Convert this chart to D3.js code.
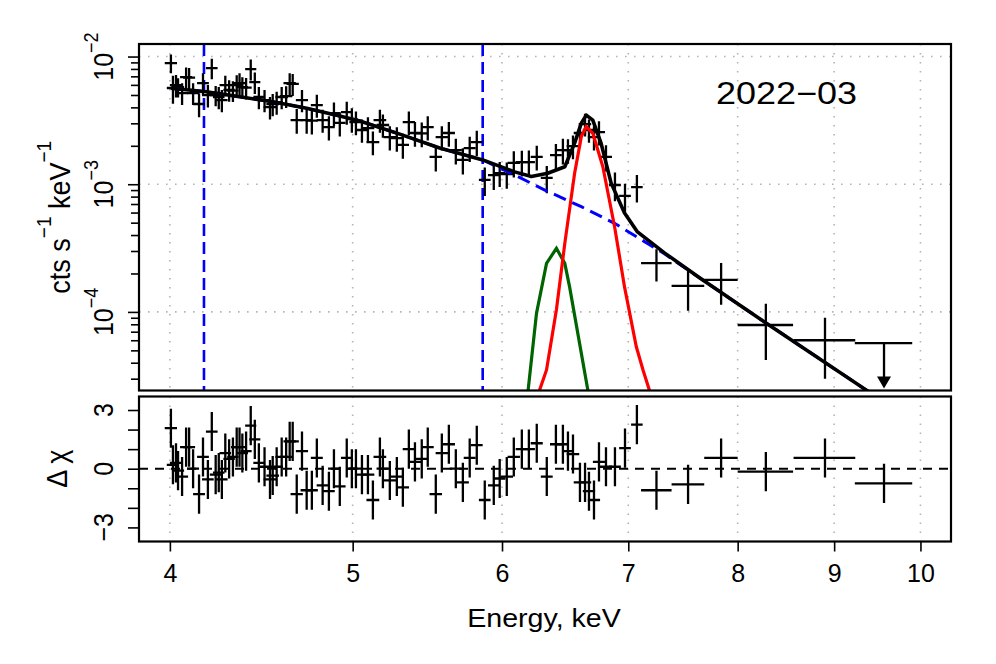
<!DOCTYPE html>
<html lang="en">
  <head>
    <meta charset="UTF-8">
    <title>2022-03 spectrum</title>
    <style>
      html, body { margin: 0; padding: 0; background: #fff; }
      svg { display: block; font-family: "Liberation Sans", Arial, sans-serif; }
    </style>
  </head>
  <body>
    <svg id="chart" width="996" height="664"></svg>
    <script src="https://cdn.jsdelivr.net/npm/d3@7"></script>
    <script>
      // --- data ---
      const energy = [
        4.005, 4.015, 4.03, 4.04, 4.06, 4.08, 4.095, 4.115, 4.145, 4.165,
        4.19, 4.21, 4.23, 4.246, 4.262, 4.28, 4.30, 4.32, 4.34, 4.355,
        4.37, 4.39, 4.415, 4.437, 4.459, 4.49, 4.52, 4.535, 4.557, 4.585,
        4.61, 4.63, 4.647, 4.67, 4.70, 4.727, 4.757, 4.786, 4.82, 4.857,
        4.887, 4.922, 4.964, 4.995, 5.02, 5.057, 5.094, 5.125, 5.169, 5.188,
        5.232, 5.277, 5.316, 5.355, 5.395, 5.44, 5.48, 5.534, 5.575, 5.623,
        5.671, 5.72, 5.768, 5.818, 5.875, 5.94, 5.983, 6.035, 6.087, 6.147,
        6.20, 6.26, 6.337, 6.408, 6.463, 6.503, 6.543, 6.599, 6.64, 6.672,
        6.713, 6.754, 6.812, 6.887, 6.972, 7.074,
        7.245, 7.53, 7.84, 8.28, 8.90, 9.565
      ];
      const halfWidth = [
        0.03, 0.03, 0.03, 0.03, 0.03, 0.03, 0.03, 0.03, 0.03, 0.03,
        0.03, 0.03, 0.03, 0.03, 0.03, 0.03, 0.03, 0.03, 0.03, 0.03,
        0.03, 0.03, 0.03, 0.03, 0.03, 0.03, 0.035, 0.035, 0.035, 0.035,
        0.035, 0.035, 0.035, 0.035, 0.035, 0.035, 0.035, 0.035, 0.035, 0.035,
        0.035, 0.035, 0.035, 0.035, 0.04, 0.04, 0.04, 0.04, 0.04, 0.04,
        0.04, 0.04, 0.04, 0.04, 0.04, 0.04, 0.04, 0.042, 0.042, 0.042,
        0.042, 0.042, 0.042, 0.042, 0.042, 0.042, 0.042, 0.046, 0.046, 0.046,
        0.046, 0.046, 0.046, 0.046, 0.046, 0.046, 0.05, 0.05, 0.05, 0.05,
        0.05, 0.05, 0.05, 0.05, 0.05, 0.05,
        0.135, 0.15, 0.16, 0.28, 0.335, 0.335
      ];
      // cts s^-1 keV^-1
      const flux = [
        8.89e-3, 5.67e-3, 5.98e-3, 5.77e-3, 5.18e-3, 6.91e-3, 6.85e-3, 5.18e-3, 4.25e-3, 6.20e-3,
        4.99e-3, 8.13e-3, 4.99e-3, 4.82e-3, 4.56e-3, 5.98e-3, 5.47e-3, 5.40e-3, 5.98e-3, 6.20e-3,
        5.77e-3, 5.70e-3, 7.98e-3, 6.30e-3, 4.82e-3, 4.56e-3, 4.02e-3, 4.25e-3, 4.40e-3, 4.82e-3,
        4.90e-3, 6.20e-3, 6.10e-3, 3.18e-3, 4.56e-3, 3.18e-3, 3.15e-3, 4.17e-3, 3.18e-3, 2.80e-3,
        3.61e-3, 3.02e-3, 3.67e-3, 3.23e-3, 3.07e-3, 2.66e-3, 2.75e-3, 2.14e-3, 3.18e-3, 2.91e-3,
        2.34e-3, 2.30e-3, 2.03e-3, 3.07e-3, 2.52e-3, 2.50e-3, 2.80e-3, 1.64e-3, 2.34e-3, 2.52e-3,
        1.85e-3, 1.55e-3, 1.92e-3, 2.14e-3, 1.08e-3, 1.18e-3, 1.22e-3, 1.20e-3, 1.47e-3, 1.49e-3,
        1.49e-3, 1.64e-3, 1.12e-3, 1.69e-3, 1.85e-3, 1.85e-3, 1.99e-3, 2.52e-3, 2.96e-3, 2.66e-3,
        2.34e-3, 2.56e-3, 1.64e-3, 9.86e-4, 8.1e-4, 9.5e-4,
        2.41e-4, 1.60e-4, 1.78e-4, 7.9e-5, 6.0e-5, 5.7e-5
      ];
      // null = upper limit
      const fluxErr = [
        1.5e-3, 1.4e-3, 1.2e-3, 1.0e-3, 1.0e-3, 1.3e-3, 1.3e-3, 1.0e-3, 0.9e-3, 1.2e-3,
        1.0e-3, 1.5e-3, 0.9e-3, 0.95e-3, 0.9e-3, 1.1e-3, 1.05e-3, 1.0e-3, 1.15e-3, 1.2e-3,
        1.1e-3, 1.1e-3, 1.5e-3, 1.2e-3, 0.95e-3, 0.9e-3, 0.8e-3, 0.85e-3, 0.9e-3, 0.95e-3,
        0.95e-3, 1.2e-3, 1.2e-3, 0.7e-3, 0.9e-3, 0.7e-3, 0.7e-3, 0.85e-3, 0.65e-3, 0.6e-3,
        0.75e-3, 0.65e-3, 0.75e-3, 0.7e-3, 0.65e-3, 0.55e-3, 0.6e-3, 0.45e-3, 0.65e-3, 0.6e-3,
        0.5e-3, 0.5e-3, 0.45e-3, 0.65e-3, 0.55e-3, 0.55e-3, 0.6e-3, 0.38e-3, 0.5e-3, 0.55e-3,
        0.42e-3, 0.36e-3, 0.43e-3, 0.48e-3, 0.27e-3, 0.28e-3, 0.27e-3, 0.28e-3, 0.34e-3, 0.34e-3,
        0.35e-3, 0.36e-3, 0.27e-3, 0.38e-3, 0.42e-3, 0.4e-3, 0.42e-3, 0.5e-3, 0.6e-3, 0.55e-3,
        0.5e-3, 0.55e-3, 0.38e-3, 0.25e-3, 0.2e-3, 0.23e-3,
        0.68e-4, 0.58e-4, 0.64e-4, 0.37e-4, 0.30e-4, null
      ];
      // delta chi
      const resid = [
        2.07, 0.2, 0.3, -0.1, -0.4, 1.1, 1.1, 0.0, -1.3, 0.6,
        -0.55, 1.9, -0.3, -0.2, -0.55, 0.8, 0.5, 0.6, 1.1, 1.1,
        0.8, 0.9, 2.2, 1.5, 0.3, 0.1, -0.55, -0.35, 0.1, 0.6,
        0.6, 1.4, 1.4, -1.3, 0.9, -1.1, -1.1, 0.55, -0.85, -1.15,
        0.0, -0.9, 0.55, 0.0, 0.0, -0.3, -0.3, -1.6, 0.6, 0.0,
        -0.6, -0.4, -0.95, 1.0, 0.35, 0.5, 1.1, -1.3, 0.8, 1.25,
        0.0, -0.7, 0.55, 1.2, -1.6, -0.85, -0.5, -0.4, 0.6, 1.0,
        1.0, 1.3, -0.4, 1.25, 1.25, 0.9, 0.75, -0.7, -0.7, -1.15,
        -1.6, 0.35, 0.1, 0.1, 1.05, 2.25,
        -1.1, -0.8, 0.55, -0.15, 0.55, -0.75
      ];

      // model curves, [keV, cts s^-1 keV^-1]
      const modelTotal = [
        [4.005, 5.64e-3], [4.183, 5.30e-3], [4.355, 4.84e-3], [4.535, 4.43e-3], [4.727, 3.93e-3],
        [4.922, 3.42e-3], [5.044, 3.13e-3], [5.296, 2.47e-3], [5.56, 1.92e-3], [5.861, 1.55e-3],
        [6.094, 1.25e-3], [6.219, 1.15e-3], [6.344, 1.22e-3], [6.478, 1.37e-3], [6.556, 2.10e-3],
        [6.610, 3.01e-3], [6.650, 3.48e-3], [6.703, 3.18e-3], [6.771, 2.10e-3], [6.855, 1.02e-3],
        [6.968, 5.95e-4], [7.079, 4.23e-4], [7.316, 2.9e-4], [7.636, 1.85e-4], [8.285, 8.15e-5],
        [9.362, 2.44e-5], [9.6, 1.91e-5]
      ];
      const modelContinuum = [
        [4.005, 5.64e-3], [4.183, 5.30e-3], [4.355, 4.84e-3], [4.535, 4.43e-3], [4.727, 3.93e-3],
        [4.922, 3.42e-3], [5.044, 3.13e-3], [5.296, 2.47e-3], [5.56, 1.92e-3], [5.861, 1.55e-3],
        [6.094, 1.18e-3], [6.322, 9.0e-4], [6.610, 6.67e-4], [6.884, 4.94e-4], [7.166, 3.44e-4],
        [7.316, 2.85e-4], [7.636, 1.85e-4], [8.285, 8.15e-5], [9.362, 2.44e-5], [9.6, 1.91e-5]
      ];
      const lineFe64 = [
        [6.17, 1.43e-5], [6.258, 9.75e-5], [6.335, 2.40e-4], [6.412, 3.15e-4], [6.478, 2.40e-4],
        [6.516, 1.57e-4], [6.717, 1.24e-5]
      ];
      const lineFe67 = [
        [6.258, 2.08e-5], [6.335, 3.51e-5], [6.412, 1.04e-4], [6.478, 3.44e-4], [6.556, 1.22e-3],
        [6.610, 2.36e-3], [6.650, 2.82e-3], [6.704, 2.50e-3], [6.786, 1.37e-3], [6.884, 4.65e-4],
        [6.968, 1.57e-4], [7.069, 5.33e-5], [7.127, 3.51e-5], [7.21, 2.04e-5]
      ];
      const bandEdges = [4.17, 5.86];
      const xTicks = [4, 5, 6, 7, 8, 9, 10];
      const decadeTicks = [1e-2, 1e-3, 1e-4];
      const decadeLabels = ["−2", "−3", "−4"];
      const residTicks = [-3, -2, -1, 0, 1, 2, 3];
      const residLabels = [-3, 0, 3];
      const title = "2022−03";

      // --- layout ---
      const svg = d3.select("#chart");
      const left = 139, right = 951;
      const topPanel = { y0: 44, y1: 390.5 };
      const resPanel = { y0: 396.5, y1: 541.5 };

      const x = d3.scaleLog().domain([3.852, 10.38]).range([left, right]);
      const y = d3.scaleLog().domain([2.424e-5, 1.254e-2]).range([topPanel.y1, topPanel.y0]);
      const yRes = d3.scaleLinear().domain([-3.72, 3.69]).range([resPanel.y1, resPanel.y0]);

      svg.append("rect").attr("width", 996).attr("height", 664).attr("fill", "#fff");

      const defs = svg.append("defs");
      defs.append("clipPath").attr("id", "clip-top").append("rect")
        .attr("x", left).attr("y", topPanel.y0)
        .attr("width", right - left).attr("height", topPanel.y1 - topPanel.y0);
      defs.append("clipPath").attr("id", "clip-res").append("rect")
        .attr("x", left).attr("y", resPanel.y0)
        .attr("width", right - left).attr("height", resPanel.y1 - resPanel.y0);

      const points = energy.map((e, i) => ({
        e: e, hw: halfWidth[i], f: flux[i], err: fluxErr[i], r: resid[i]
      }));

      // text stretched a bit horizontally, like the original device
      function stretched(g, px, py, angle, size) {
        return g.append("text")
          .attr("transform", `translate(${px},${py}) scale(1.1,1) rotate(${angle})`)
          .attr("text-anchor", "middle")
          .attr("font-size", size)
          .attr("fill", "#000");
      }

      // grid
      const grid = svg.append("g")
        .attr("stroke", "#b4b4b4")
        .attr("stroke-width", 1.6)
        .attr("stroke-dasharray", "1.6,7.4");
      xTicks.forEach(t => {
        grid.append("line").attr("x1", x(t)).attr("x2", x(t))
          .attr("y1", topPanel.y0).attr("y2", topPanel.y1);
        grid.append("line").attr("x1", x(t)).attr("x2", x(t))
          .attr("y1", resPanel.y0).attr("y2", resPanel.y1);
      });
      decadeTicks.forEach(t => {
        grid.append("line").attr("x1", left).attr("x2", right)
          .attr("y1", y(t)).attr("y2", y(t));
      });

      // ---------- top panel ----------
      const topG = svg.append("g").attr("clip-path", "url(#clip-top)");

      topG.selectAll("line.band")
        .data(bandEdges)
        .enter()
        .append("line")
        .attr("class", "band")
        .attr("x1", d => x(d)).attr("x2", d => x(d))
        .attr("y1", topPanel.y0).attr("y2", topPanel.y1)
        .attr("stroke", "#0000ff")
        .attr("stroke-width", 2.6)
        .attr("stroke-dasharray", "12,6");

      const measured = points.filter(d => d.err !== null);
      const limits = points.filter(d => d.err === null);

      const crosses = topG.append("g").attr("stroke", "#000").attr("stroke-width", 2.3);
      crosses.selectAll("line.xe")
        .data(measured)
        .enter()
        .append("line")
        .attr("x1", d => x(d.e - d.hw)).attr("x2", d => x(d.e + d.hw))
        .attr("y1", d => y(d.f)).attr("y2", d => y(d.f));
      crosses.selectAll("line.ye")
        .data(measured)
        .enter()
        .append("line")
        .attr("x1", d => x(d.e)).attr("x2", d => x(d.e))
        .attr("y1", d => y(d.f + d.err)).attr("y2", d => y(d.f - d.err));

      // upper limit with arrow
      const tipY = topPanel.y1 - 2;
      limits.forEach(d => {
        crosses.append("line")
          .attr("x1", x(d.e - d.hw)).attr("x2", x(d.e + d.hw))
          .attr("y1", y(d.f)).attr("y2", y(d.f));
        crosses.append("line")
          .attr("x1", x(d.e)).attr("x2", x(d.e))
          .attr("y1", y(d.f)).attr("y2", tipY - 10);
        topG.append("path")
          .attr("d", `M${x(d.e) - 7},${tipY - 12}L${x(d.e) + 7},${tipY - 12}L${x(d.e)},${tipY}Z`)
          .attr("fill", "#000");
      });

      const line = d3.line().x(d => x(d[0])).y(d => y(d[1]));

      topG.append("path").datum(modelContinuum)
        .attr("d", line).attr("fill", "none")
        .attr("stroke", "#0000ff").attr("stroke-width", 3)
        .attr("stroke-dasharray", "13,7");
      topG.append("path").datum(lineFe64)
        .attr("d", line).attr("fill", "none")
        .attr("stroke", "#006400").attr("stroke-width", 3.2);
      topG.append("path").datum(lineFe67)
        .attr("d", line).attr("fill", "none")
        .attr("stroke", "#ff0000").attr("stroke-width", 3.2);
      topG.append("path").datum(modelTotal)
        .attr("d", line).attr("fill", "none")
        .attr("stroke", "#000").attr("stroke-width", 3.6)
        .attr("stroke-linejoin", "round");

      // left axis, log ticks
      const minorTicks = [];
      [1e-5, 1e-4, 1e-3].forEach(dec => {
        for (let k = 2; k <= 9; k++) minorTicks.push(k * dec);
      });
      const yDomain = y.domain();
      const minorIn = minorTicks.filter(v => v >= yDomain[0] && v <= yDomain[1]);

      const yAxisMinor = svg.append("g")
        .attr("transform", `translate(${left},0)`)
        .call(d3.axisLeft(y).tickValues(minorIn).tickSize(8).tickFormat(""));
      const yAxisMajor = svg.append("g")
        .attr("transform", `translate(${left},0)`)
        .call(d3.axisLeft(y).tickValues(decadeTicks).tickSize(11).tickFormat(""));
      [yAxisMinor, yAxisMajor].forEach(g => {
        g.select(".domain").remove();
        g.selectAll("line").attr("stroke", "#000").attr("stroke-width", 1.6);
      });

      decadeTicks.forEach((t, i) => {
        const lab = stretched(svg, 113, y(t), -90, 25);
        lab.append("tspan").text("10");
        lab.append("tspan").attr("font-size", 18).attr("dy", -14).text(decadeLabels[i]);
      });

      const yTitle = stretched(svg, 70, (topPanel.y0 + topPanel.y1) / 2, -90, 27);
      yTitle.append("tspan").text("cts s");
      yTitle.append("tspan").attr("font-size", 19).attr("dy", -17).text("−1");
      yTitle.append("tspan").attr("dy", 17).text(" keV");
      yTitle.append("tspan").attr("font-size", 19).attr("dy", -17).text("−1");

      svg.append("text")
        .attr("x", 716).attr("y", 104)
        .attr("font-size", 31)
        .attr("textLength", 141)
        .attr("lengthAdjust", "spacingAndGlyphs")
        .attr("fill", "#000")
        .text(title);

      svg.append("rect")
        .attr("x", left).attr("y", topPanel.y0)
        .attr("width", right - left).attr("height", topPanel.y1 - topPanel.y0)
        .attr("fill", "none").attr("stroke", "#000").attr("stroke-width", 2.2);

      // ---------- residual panel ----------
      const resG = svg.append("g").attr("clip-path", "url(#clip-res)");

      resG.append("line")
        .attr("x1", left).attr("x2", right)
        .attr("y1", yRes(0)).attr("y2", yRes(0))
        .attr("stroke", "#000").attr("stroke-width", 2)
        .attr("stroke-dasharray", "9,7");

      const rc = resG.append("g").attr("stroke", "#000").attr("stroke-width", 2.3);
      rc.selectAll("line.xe")
        .data(points)
        .enter()
        .append("line")
        .attr("x1", d => x(d.e - d.hw)).attr("x2", d => x(d.e + d.hw))
        .attr("y1", d => yRes(d.r)).attr("y2", d => yRes(d.r));
      rc.selectAll("line.ye")
        .data(points)
        .enter()
        .append("line")
        .attr("x1", d => x(d.e)).attr("x2", d => x(d.e))
        .attr("y1", d => yRes(d.r + 1)).attr("y2", d => yRes(d.r - 1));

      const resAxis = svg.append("g")
        .attr("transform", `translate(${left},0)`)
        .call(d3.axisLeft(yRes).tickValues(residTicks).tickSize(11).tickFormat(""));
      resAxis.select(".domain").remove();
      resAxis.selectAll("line").attr("stroke", "#000").attr("stroke-width", 1.6);

      residLabels.forEach(t => {
        stretched(svg, 113, yRes(t), -90, 25).text(t < 0 ? "−" + Math.abs(t) : String(t));
      });

      stretched(svg, 67, yRes(0), -90, 27).text("Δ χ");

      const xAxis = svg.append("g")
        .attr("transform", `translate(0,${resPanel.y1})`)
        .call(d3.axisBottom(x).tickValues(xTicks).tickSize(10).tickPadding(13).tickFormat(d3.format("d")));
      xAxis.select(".domain").remove();
      xAxis.selectAll("line").attr("stroke", "#000").attr("stroke-width", 1.6);
      xAxis.selectAll("text")
        .attr("font-size", 25)
        .attr("fill", "#000")
        .attr("font-family", "Liberation Sans, Arial, sans-serif");

      stretched(svg, 544, 627, 0, 26).text("Energy, keV");

      svg.append("rect")
        .attr("x", left).attr("y", resPanel.y0)
        .attr("width", right - left).attr("height", resPanel.y1 - resPanel.y0)
        .attr("fill", "none").attr("stroke", "#000").attr("stroke-width", 2.2);
    </script>
  </body>
</html>
